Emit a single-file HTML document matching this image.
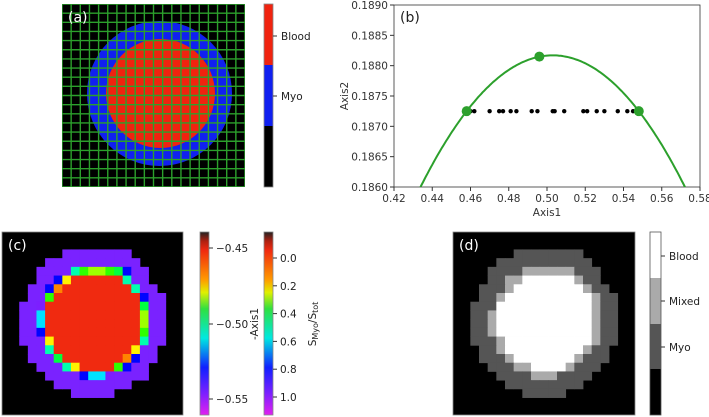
<!DOCTYPE html>
<html><head><meta charset="utf-8"><style>
body{margin:0;background:#fff;}
svg{display:block;font-family:"DejaVu Sans","Liberation Sans",sans-serif;}
</style></head><body>
<svg id="s" width="709" height="417" viewBox="0 0 709 417">
<defs>
<clipPath id="clipA"><rect x="62" y="4" width="183" height="183"/></clipPath>
<clipPath id="clipB"><rect x="394" y="5" width="306" height="182"/></clipPath>
<linearGradient id="rain" x1="0" y1="0" x2="0" y2="1">
<stop offset="0" stop-color="#222"/><stop offset="0.05" stop-color="#b02010"/><stop offset="0.1" stop-color="#f02a10"/>
<stop offset="0.26" stop-color="#ff9a00"/><stop offset="0.33" stop-color="#e0f000"/><stop offset="0.42" stop-color="#30e040"/>
<stop offset="0.58" stop-color="#00e8e0"/><stop offset="0.74" stop-color="#1020ff"/><stop offset="0.88" stop-color="#7a20ff"/>
<stop offset="1" stop-color="#e020f0"/></linearGradient>
</defs>
<g id="pa">
<g clip-path="url(#clipA)">
<rect x="62" y="4" width="183" height="183" fill="#000"/>
<circle cx="159.5" cy="93.5" r="72.5" fill="#1020f0"/>
<circle cx="160.5" cy="93.5" r="54.5" fill="#f0230f"/>
<g id="gridA"></g>
</g>
<text x="68" y="22" fill="#fff" font-size="14">(a)</text>
<g>
<rect x="264" y="4" width="9" height="61" fill="#f0230f"/>
<rect x="264" y="65" width="9" height="61" fill="#1020f0"/>
<rect x="264" y="126" width="9" height="61" fill="#000"/>
<rect x="264" y="4" width="9" height="183" fill="none" stroke="#888" stroke-width="0.8"/>
<line x1="273" y1="36" x2="277" y2="36" stroke="#333"/><line x1="273" y1="96" x2="277" y2="96" stroke="#333"/>
<text x="281" y="40" font-size="10.5" fill="#222">Blood</text>
<text x="281" y="100" font-size="10.5" fill="#222">Myo</text>
</g>
</g>
<g id="pb">
<rect x="394" y="5" width="306" height="182" fill="none" stroke="#333" stroke-width="0.8"/>
<g id="axesB"></g>
<g id="marksB" clip-path="url(#clipB)"></g>
<text x="400" y="22" font-size="14" fill="#222">(b)</text>
<text x="547" y="216" font-size="10.5" fill="#333" text-anchor="middle">Axis1</text>
<text transform="translate(348,96) rotate(-90)" font-size="10.5" fill="#333" text-anchor="middle">Axis2</text>
</g>
<g id="pc">
<g id="gridC"></g>
<rect x="2" y="232" width="181" height="183" fill="none" stroke="#888" stroke-width="0.8"/>
<text x="8" y="250" fill="#fff" font-size="14">(c)</text>
<g>
<rect x="200" y="232" width="9" height="183" fill="url(#rain)" stroke="#888" stroke-width="0.8"/>
<line x1="209" y1="248" x2="213" y2="248" stroke="#333"/><line x1="209" y1="324" x2="213" y2="324" stroke="#333"/><line x1="209" y1="399" x2="213" y2="399" stroke="#333"/>
<text x="216" y="252" font-size="10.5" fill="#222">−0.45</text>
<text x="216" y="328" font-size="10.5" fill="#222">−0.50</text>
<text x="216" y="403" font-size="10.5" fill="#222">−0.55</text>
<text transform="translate(258,324) rotate(-90)" font-size="10.5" fill="#222" text-anchor="middle">-Axis1</text>
</g>
<g id="cbarS">
<rect x="264" y="232" width="9" height="183" fill="url(#rain)" stroke="#888" stroke-width="0.8"/>
<text transform="translate(316,324) rotate(-90)" font-size="10.5" fill="#222" text-anchor="middle">S<tspan font-size="8" dy="2">Myo</tspan><tspan dy="-2">/S</tspan><tspan font-size="8" dy="2">tot</tspan></text>
</g>
</g>
<g id="pd">
<g id="gridD"></g>
<rect x="453" y="232" width="182" height="183" fill="none" stroke="#888" stroke-width="0.8"/>
<text x="459" y="250" fill="#fff" font-size="14">(d)</text>
<g>
<rect x="650" y="232" width="11" height="46" fill="#fff"/>
<rect x="650" y="278" width="11" height="46" fill="#aaa"/>
<rect x="650" y="324" width="11" height="45" fill="#555"/>
<rect x="650" y="369" width="11" height="46" fill="#000"/>
<rect x="650" y="232" width="11" height="183" fill="none" stroke="#555" stroke-width="0.8"/>
<line x1="661" y1="256" x2="665" y2="256" stroke="#333"/><line x1="661" y1="301" x2="665" y2="301" stroke="#333"/><line x1="661" y1="347" x2="665" y2="347" stroke="#333"/>
<text x="669" y="260" font-size="10.5" fill="#222">Blood</text>
<text x="669" y="305" font-size="10.5" fill="#222">Mixed</text>
<text x="669" y="351" font-size="10.5" fill="#222">Myo</text>
</g>
</g>
</svg>
<script>
const NS="http://www.w3.org/2000/svg";
// panel b data
const xTicks=[0.42,0.44,0.46,0.48,0.50,0.52,0.54,0.56,0.58];
const yTicks=[0.1860,0.1865,0.1870,0.1875,0.1880,0.1885,0.1890];
const dotX=[0.460,0.462,0.470,0.475,0.477,0.481,0.484,0.492,0.495,0.503,0.504,0.509,0.519,0.521,0.526,0.530,0.537,0.542,0.545];
const dotY=0.18725;
const greenX=[0.458,0.496,0.548];
const greenY=[0.18725,0.18815,0.18725];
const parabolaPeak=[0.503,0.18817];
const parabolaK=[0.454];
// panel c/d grids: . black, M myo, B blood, a-k mixed fraction (a=0.0 .. k=1.0)
const gridDRows=[
".....................",
".....................",
".......MMMMMMMM......",
".....MMMMMMMMMMM.....",
"....MMMMLLLLLLMMM....",
"....MMLLBBBBBBLMM....",
"...MMMLBBBBBBBBLMM...",
"...MMLBBBBBBBBBBLMM..",
"..MMMBBBBBBBBBBBLMM..",
"..MMLBBBBBBBBBBBLMM..",
"..MMLBBBBBBBBBBBLMM..",
"..MMLBBBBBBBBBBBLMM..",
"..MMMLBBBBBBBBBBLMM..",
"...MMLBBBBBBBBBLMM...",
"...MMMLBBBBBBBLMMM...",
"....MMMLLBBBBLMMM....",
".....MMMMLLLMMMM.....",
"......MMMMMMMMM......",
"........MMMMM........",
".....................",
"....................."];
const gridCRows=[
".....................",
".....................",
".......MMMMMMMM......",
".....MMMMMMMMMMM.....",
"....MMMMgeddefjMM....",
"....MMjcBBBBBBgMM....",
"...MMjbBBBBBBBBgMM...",
"...MMeBBBBBBBBBBjMM..",
"..MMkBBBBBBBBBBBfMM..",
"..MMhBBBBBBBBBBBdMM..",
"..MMhBBBBBBBBBBBdMM..",
"..MMjBBBBBBBBBBBeMM..",
"..MMMcBBBBBBBBBBgMM..",
"...MMgBBBBBBBBBcMM...",
"...MMMfBBBBBBBbjMM...",
"....MMMgcBBBBejMM....",
".....MMMMjhhkMMMM....",
"......MMMMMMMMM......",
"........MMMMM........",
".....................",
"....................."];
const sTicks=[0.0,0.2,0.4,0.6,0.8,1.0];

function el(t,a,p){const e=document.createElementNS(NS,t);for(const k in a)e.setAttribute(k,a[k]);p.appendChild(e);return e;}
const gA=document.getElementById('gridA');
for(let i=0;i<=20;i++){const p=62+i*183/20;
 el('line',{x1:p,y1:4,x2:p,y2:187,stroke:'#2ca02c','stroke-width':1.4},gA);
 el('line',{x1:62,y1:4+i*183/20,x2:245,y2:4+i*183/20,stroke:'#2ca02c','stroke-width':1.4},gA);}
const X0=394,X1=700,Y0=187,Y1=5;
const sx=v=>X0+(v-0.42)/(0.58-0.42)*(X1-X0);
const sy=v=>Y0-(v-0.1860)/(0.1890-0.1860)*(Y0-Y1);
const axB=document.getElementById('axesB');
xTicks.forEach(t=>{el('line',{x1:sx(t),y1:187,x2:sx(t),y2:191,stroke:'#333'},axB);
 const tx=el('text',{x:sx(t),y:202,'font-size':10.5,fill:'#333','text-anchor':'middle'},axB);tx.textContent=t.toFixed(2);
 
 });
yTicks.forEach(t=>{el('line',{x1:390,y1:sy(t),x2:394,y2:sy(t),stroke:'#333'},axB);
 const tx=el('text',{x:388,y:sy(t)+4,'font-size':10.5,fill:'#333','text-anchor':'end'},axB);tx.textContent=t.toFixed(4);
 
 });
const mB=document.getElementById('marksB');
let d='';for(let i=0;i<=200;i++){const x=0.42+i*0.16/200;const y=parabolaPeak[1]-parabolaK[0]*(x-parabolaPeak[0])**2;d+=(i?'L':'M')+sx(x).toFixed(1)+','+sy(y).toFixed(1);}
const pl=el('path',{d:d,fill:'none',stroke:'#2ca02c','stroke-width':2},mB);


dotX.forEach(x=>{const c=el('circle',{cx:sx(x),cy:sy(dotY),r:2.2,fill:'#000'},mB);
 
 });
greenX.forEach((x,i)=>{const c=el('circle',{cx:sx(x),cy:sy(greenY[i]),r:5,fill:'#2ca02c'},mB);
 
 });
function cmap(v){const h=5+v*260;return 'hsl('+h+',100%,'+(v>0.9?56:50)+'%)';}
function drawGrid(id,rows,x0,y0,cw,ch,colorFn){const g=document.getElementById(id);
 el('rect',{x:x0,y:y0,width:cw*21,height:ch*21,fill:'#000'},g);
 rows.forEach((r,i)=>{[...r].forEach((c,j)=>{if(c==='.')return;
  const rc=el('rect',{x:x0+j*cw,y:y0+i*ch,width:cw+0.4,height:ch+0.4,fill:colorFn(c)},g);
  
  });});}
drawGrid('gridD',gridDRows,453,232,182/21,183/21,c=>c==='M'?'#555':c==='L'?'#aaa':'#fff');
drawGrid('gridC',gridCRows,2,232,181/21,183/21,c=>c==='M'?'#7a22ff':c==='B'?'#f02a10':cmap((c.charCodeAt(0)-97)/10));
const cs=document.getElementById('cbarS');
sTicks.forEach(t=>{const y=258+t/0.2*27.8;el('line',{x1:273,y1:y,x2:277,y2:y,stroke:'#333'},cs);
 const tx=el('text',{x:280,y:y+4,'font-size':10.5,fill:'#222'},cs);tx.textContent=t.toFixed(1);
 
 });
</script>
</body></html>
